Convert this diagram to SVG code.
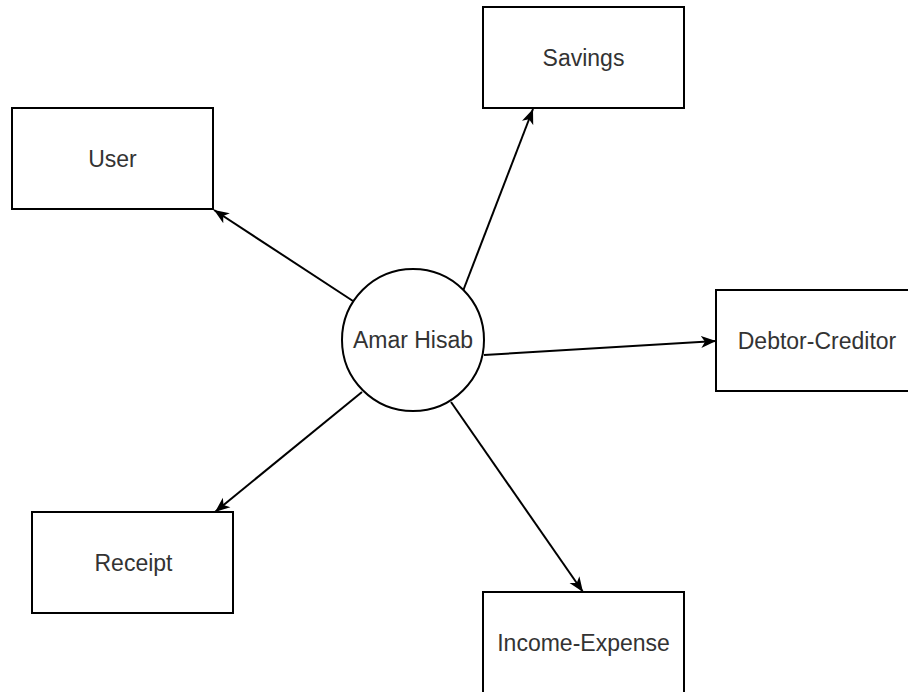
<svg xmlns="http://www.w3.org/2000/svg" width="908" height="692" viewBox="0 0 908 692">
<style>
.box{fill:#fff;stroke:#000;stroke-width:2}
.lbl{font-family:"Liberation Sans",Arial,Helvetica,sans-serif;font-size:23px;fill:#333;text-anchor:middle}
.edge{stroke:#000;stroke-width:2;fill:none;marker-end:url(#arr)}
</style>
<defs>
<marker id="arr" markerUnits="userSpaceOnUse" markerWidth="16" markerHeight="14" refX="15" refY="7" orient="auto">
<path d="M0,1 L15,7 L0,13 L4,7 z" fill="#000"/>
</marker>
</defs>
<rect width="908" height="692" fill="#fff"/>
<g id="connectors">
<line class="edge" x1="353" y1="301" x2="214" y2="210"/>
<line class="edge" x1="463" y1="291" x2="533" y2="109"/>
<line class="edge" x1="484" y1="355" x2="716" y2="341"/>
<line class="edge" x1="362" y1="392" x2="215" y2="512"/>
<line class="edge" x1="451" y1="402" x2="583" y2="592"/>
</g>
<g id="node-savings">
<rect class="box" x="483" y="7" width="201" height="101"/>
<text class="lbl" x="583.5" y="66">Savings</text>
</g>
<g id="node-user">
<rect class="box" x="12" y="108" width="201" height="101"/>
<text class="lbl" x="112.5" y="167">User</text>
</g>
<g id="node-debtor">
<rect class="box" x="716" y="290" width="201" height="101"/>
<text class="lbl" x="817" y="349">Debtor-Creditor</text>
</g>
<g id="node-receipt">
<rect class="box" x="32" y="512" width="201" height="101"/>
<text class="lbl" x="133.5" y="571">Receipt</text>
</g>
<g id="node-income">
<rect class="box" x="483" y="592" width="201" height="101"/>
<text class="lbl" x="583.5" y="651">Income-Expense</text>
</g>
<g id="node-center">
<circle class="box" cx="413" cy="340" r="71"/>
<text class="lbl" x="413" y="348">Amar Hisab</text>
</g>
</svg>
